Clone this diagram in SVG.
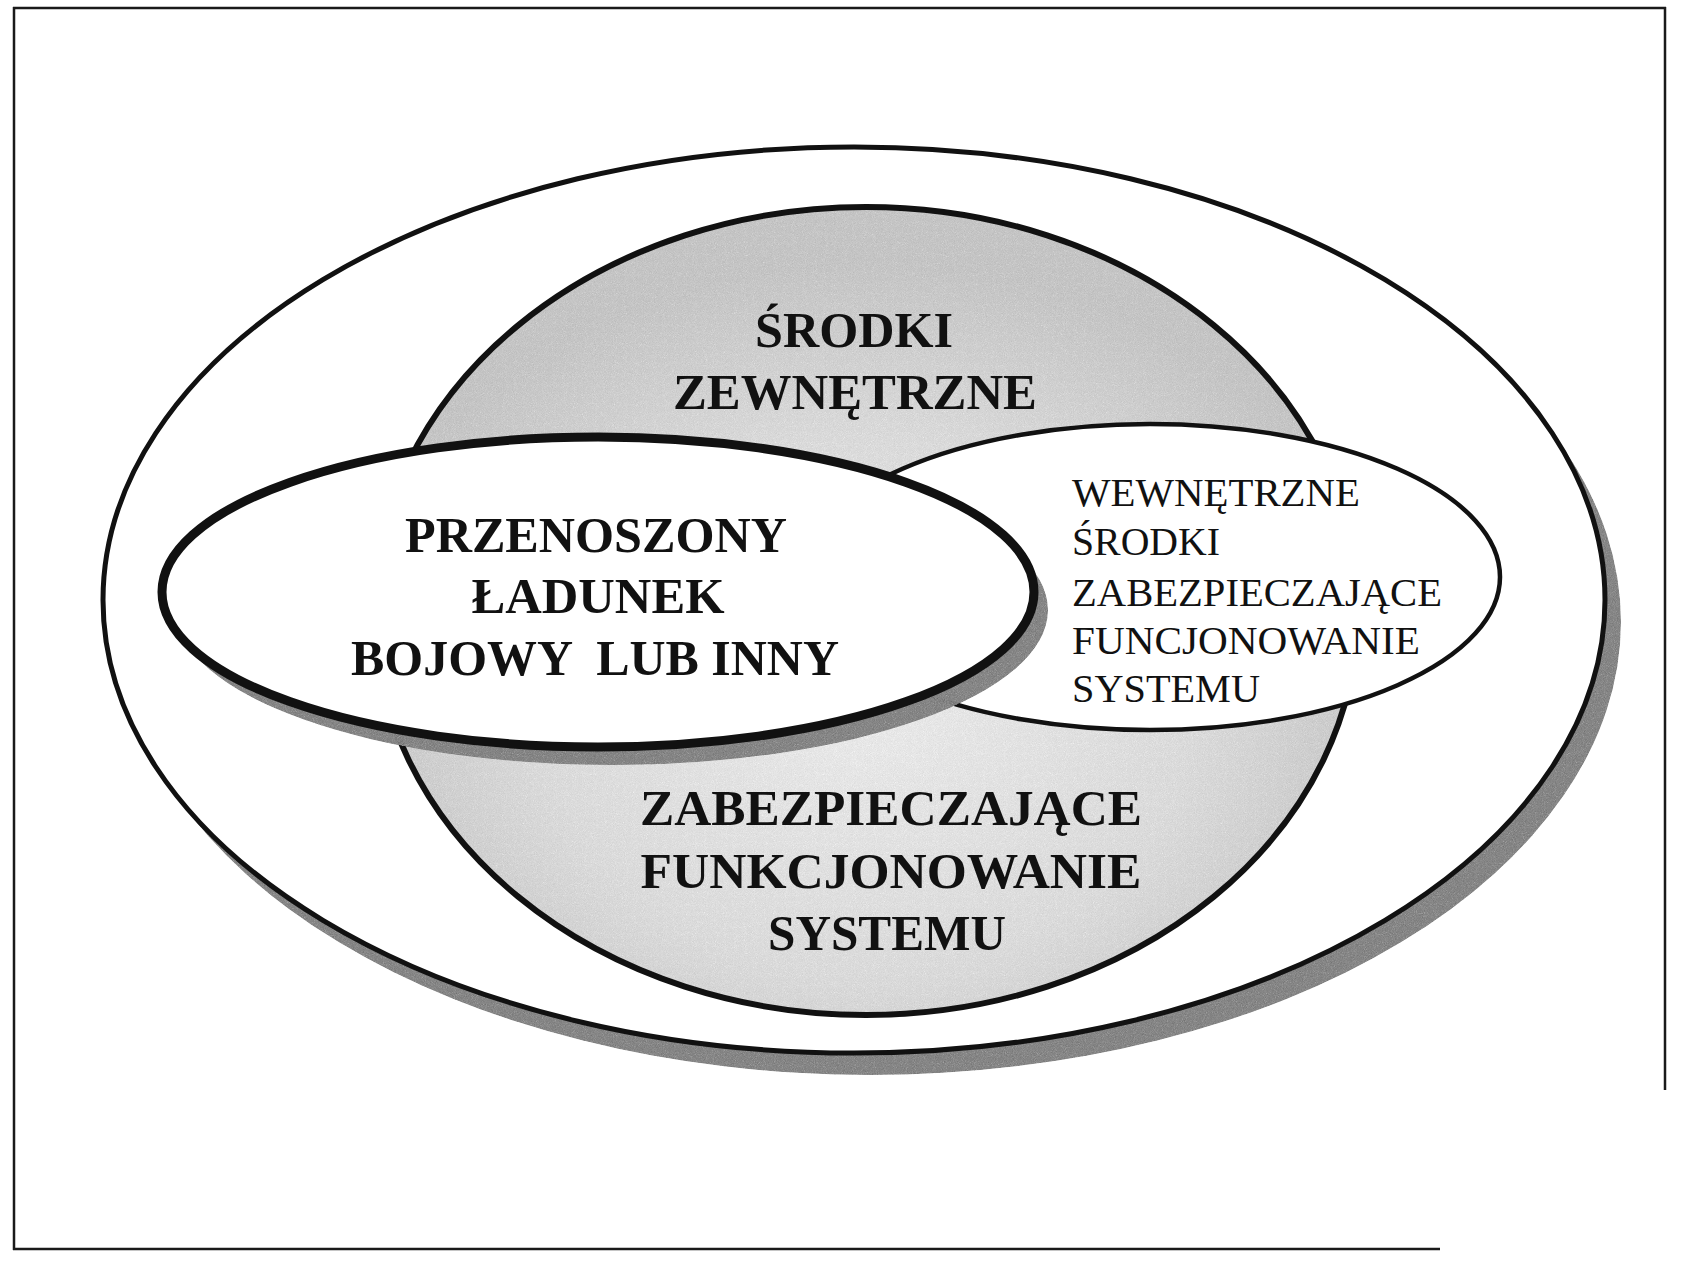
<svg xmlns="http://www.w3.org/2000/svg" width="1681" height="1262" viewBox="0 0 1681 1262">
<style>
.frame{stroke:#1a1a1a;stroke-width:2.5;fill:none}
.ln{stroke:#111}
.shadow{fill:#9c9c9c}
.bold{font-family:"Liberation Serif","Times New Roman",serif;font-weight:bold;font-size:50px;fill:#111;text-anchor:middle}
.reg{font-family:"Liberation Serif","Times New Roman",serif;font-size:40px;fill:#111}
</style>
<defs>
<radialGradient id="midFill" cx="50%" cy="62%" r="55%">
<stop offset="0" stop-color="#f4f4f4"/>
<stop offset="0.6" stop-color="#e6e6e6"/>
<stop offset="1" stop-color="#d2d2d2"/>
</radialGradient>
<filter id="grain" x="-5%" y="-5%" width="110%" height="110%">
<feTurbulence type="fractalNoise" baseFrequency="1.1" numOctaves="2" seed="7" result="noise"/>
<feColorMatrix in="noise" type="saturate" values="0" result="gn"/>
<feComposite in="gn" in2="SourceGraphic" operator="arithmetic" k1="0" k2="0.45" k3="1" k4="-0.22" result="mix"/>
<feComposite in="mix" in2="SourceGraphic" operator="in"/>
</filter>
</defs>
<rect width="1681" height="1262" fill="#ffffff"/>
<g id="frame">
<line class="frame" x1="13" y1="8" x2="1666" y2="8"/>
<line class="frame" x1="14" y1="7" x2="14" y2="1250"/>
<line class="frame" x1="1665" y1="7" x2="1665" y2="1090"/>
<line class="frame" x1="13" y1="1249" x2="1440" y2="1249"/>
</g>
<g id="outer">
<ellipse class="shadow" cx="870" cy="622" rx="751" ry="453" filter="url(#grain)"/>
<ellipse class="ln" cx="854" cy="600" rx="751" ry="453" fill="#ffffff" stroke-width="5"/>
</g>
<g id="middle">
<ellipse cx="866" cy="611" rx="492" ry="404" fill="url(#midFill)" filter="url(#grain)"/>
<ellipse class="ln" cx="866" cy="611" rx="492" ry="404" fill="none" stroke-width="6"/>
<text class="bold" x="854" y="347" textLength="198" lengthAdjust="spacingAndGlyphs">ŚRODKI</text>
<text class="bold" x="855" y="409" textLength="364" lengthAdjust="spacingAndGlyphs">ZEWNĘTRZNE</text>
<text class="bold" x="891" y="825" textLength="502" lengthAdjust="spacingAndGlyphs">ZABEZPIECZAJĄCE</text>
<text class="bold" x="891" y="888" textLength="501" lengthAdjust="spacingAndGlyphs">FUNKCJONOWANIE</text>
<text class="bold" x="887" y="950" textLength="238" lengthAdjust="spacingAndGlyphs">SYSTEMU</text>
</g>
<g id="right">
<ellipse class="ln" cx="1150" cy="577" rx="350" ry="153" fill="#ffffff" stroke-width="4.5"/>
<text class="reg" x="1072" y="506" textLength="288" lengthAdjust="spacingAndGlyphs">WEWNĘTRZNE</text>
<text class="reg" x="1072" y="555" textLength="148" lengthAdjust="spacingAndGlyphs">ŚRODKI</text>
<text class="reg" x="1072" y="606" textLength="370" lengthAdjust="spacingAndGlyphs">ZABEZPIECZAJĄCE</text>
<text class="reg" x="1072" y="654" textLength="348" lengthAdjust="spacingAndGlyphs">FUNCJONOWANIE</text>
<text class="reg" x="1072" y="702" textLength="188" lengthAdjust="spacingAndGlyphs">SYSTEMU</text>
</g>
<g id="left">
<ellipse class="shadow" cx="612" cy="610" rx="436" ry="155" filter="url(#grain)"/>
<ellipse class="ln" cx="598" cy="592" rx="436" ry="155" fill="#ffffff" stroke-width="9"/>
<text class="bold" x="596" y="552" textLength="382" lengthAdjust="spacingAndGlyphs">PRZENOSZONY</text>
<text class="bold" x="598" y="613" textLength="253" lengthAdjust="spacingAndGlyphs">ŁADUNEK</text>
<text class="bold" x="595" y="675" textLength="488" lengthAdjust="spacingAndGlyphs" xml:space="preserve">BOJOWY  LUB INNY</text>
</g>
<g id="connectors"/>
</svg>
